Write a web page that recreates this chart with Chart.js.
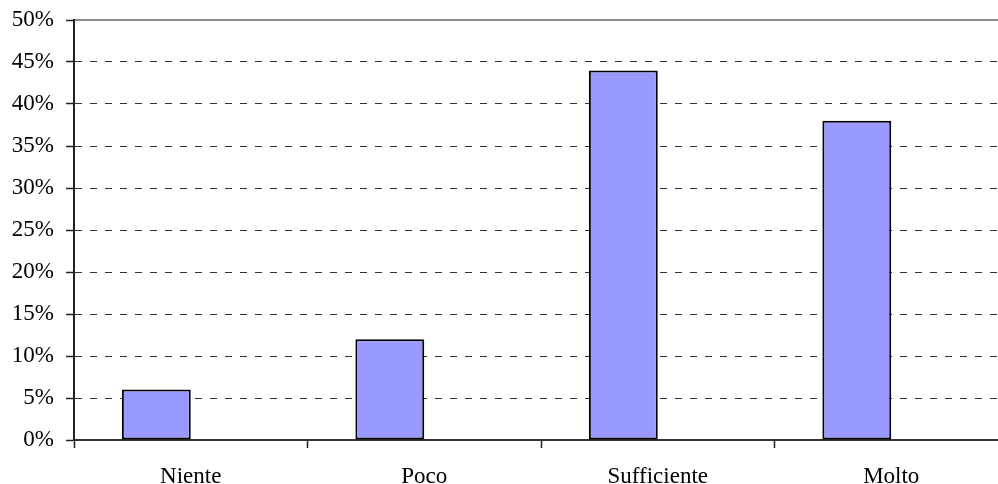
<!DOCTYPE html>
<html>
<head>
<meta charset="utf-8">
<script src="https://cdn.jsdelivr.net/npm/chart.js@4/dist/chart.umd.min.js"></script>
<style>
  html, body { margin: 0; padding: 0; background: #fff; overflow: hidden; }
  #wrap { position: relative; width: 1008px; height: 484px; }
</style>
</head>
<body>
<div id="wrap"><canvas id="c"></canvas></div>
<script>
// Categories and percentages
const categories = ['Niente', 'Poco', 'Sufficiente', 'Molto'];
const risposte = [6, 12, 44, 38];
const vuota = [null, null, null, null];
const yMin = 0, yMax = 50, yStep = 5;

const font = { family: '"Liberation Serif", "DejaVu Serif", serif', size: 23 };

new Chart(document.getElementById('c'), {
  type: 'bar',
  data: {
    labels: categories,
    datasets: [
      {
        data: risposte,
        backgroundColor: '#9999ff',
        borderColor: '#000',
        borderWidth: 2,
        borderSkipped: false,
        categoryPercentage: 0.59,
        barPercentage: 1
      },
      {
        data: vuota,
        backgroundColor: '#993366',
        categoryPercentage: 0.59,
        barPercentage: 1
      }
    ]
  },
  options: {
    responsive: true,
    maintainAspectRatio: false,
    animation: false,
    layout: { padding: { top: 20, right: 0, left: 0, bottom: 0 } },
    plugins: { legend: { display: false }, tooltip: { enabled: false } },
    scales: {
      x: {
        position: 'bottom',
        grid: { offset: true, drawOnChartArea: false, tickLength: 8, tickColor: '#222', tickWidth: 1.5 },
        border: { color: '#333', width: 2 },
        ticks: { color: '#000', font: font, padding: 15, maxRotation: 0 },
        afterFit: s => { s.height = 44; s.paddingLeft = 0; s.paddingRight = 0; }
      },
      xTop: {
        position: 'top',
        type: 'category',
        labels: categories,
        grid: { display: false, drawTicks: false },
        ticks: { display: false },
        border: { color: '#8a8a8a', width: 2 },
        afterFit: s => { s.height = 0; s.paddingLeft = 0; s.paddingRight = 0; }
      },
      y: {
        min: yMin,
        max: yMax,
        grid: {
          color: c => (c.tick && (c.tick.value === yMax || c.tick.value === yMin)) ? 'rgba(0,0,0,0)' : '#333',
          lineWidth: 1,
          tickLength: 8,
          tickColor: '#222',
          tickWidth: 1.5
        },
        border: { color: '#222', width: 2, dash: [7, 8] },
        ticks: {
          stepSize: yStep,
          color: '#000',
          font: font,
          padding: 12,
          callback: v => v + '%'
        },
        afterFit: s => { s.width = 74; s.paddingTop = 0; s.paddingBottom = 0; }
      }
    }
  }
});
</script>
</body>
</html>
